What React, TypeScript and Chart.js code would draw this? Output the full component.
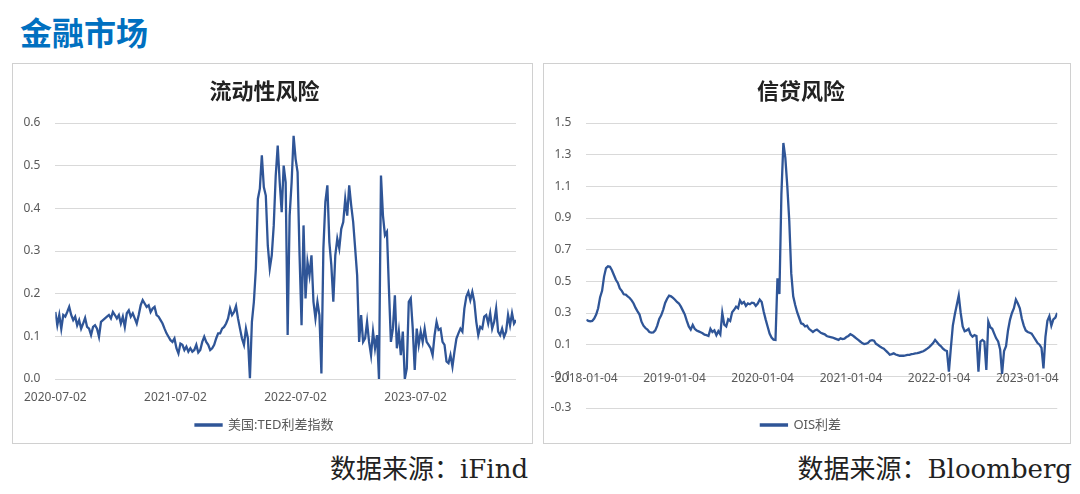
import React, { useEffect, useRef } from "react";
import { Chart, registerables } from "chart.js";

Chart.register(...registerables);

// ---------- Data ----------
const PAGE_TITLE = "金融市场";

const TED_TITLE = "流动性风险";
const TED_LABEL = "美国:TED利差指数";
const TED_SOURCE = "数据来源：iFind";
const TED_RANGE = ["2020-07-02", "2024-05-02"]; // first & last observation
const TED_TICKS = ["2020-07-02", "2021-07-02", "2022-07-02", "2023-07-02"];
const TED_Y = [0, 0.6, 0.1]; // min, max, step
const TED_VALUES = [
  0.157, 0.126, 0.15, 0.118, 0.15, 0.146, 0.157, 0.169, 0.15, 0.138,
  0.146, 0.126, 0.138, 0.118, 0.13, 0.143, 0.122, 0.118, 0.103, 0.122,
  0.126, 0.118, 0.099, 0.134, 0.138, 0.142, 0.146, 0.15, 0.142, 0.157,
  0.15, 0.142, 0.15, 0.13, 0.146, 0.122, 0.154, 0.161, 0.146, 0.154,
  0.142, 0.13, 0.15, 0.173, 0.185, 0.177, 0.169, 0.173, 0.157, 0.165,
  0.169, 0.15, 0.146, 0.138, 0.13, 0.118, 0.107, 0.099, 0.091, 0.087,
  0.095, 0.072, 0.06, 0.083, 0.08, 0.068, 0.076, 0.064, 0.072, 0.064,
  0.068, 0.08, 0.062, 0.068, 0.087, 0.099, 0.087, 0.08, 0.068, 0.072,
  0.08, 0.095, 0.107, 0.107, 0.118, 0.122, 0.13, 0.142, 0.165, 0.15,
  0.157, 0.171, 0.142, 0.118, 0.095, 0.08, 0.118, 0.095, 0.002, 0.134,
  0.181, 0.259, 0.422, 0.446, 0.524, 0.45, 0.43, 0.313, 0.259, 0.29,
  0.36, 0.477, 0.547, 0.461, 0.391, 0.5, 0.461,
  0.103, 0.383, 0.461, 0.57, 0.516, 0.485, 0.29, 0.126, 0.36, 0.189,
  0.274, 0.243, 0.29, 0.181, 0.142, 0.181, 0.15, 0.013, 0.306, 0.415,
  0.454, 0.321, 0.267, 0.181, 0.29, 0.329, 0.306, 0.352, 0.368, 0.422,
  0.383, 0.454, 0.407, 0.368, 0.306, 0.243, 0.087, 0.15, 0.087, 0.095,
  0.134, 0.087, 0.056, 0.111, 0.072, 0.103, 0.0, 0.477, 0.383, 0.337,
  0.345, 0.212, 0.087, 0.118, 0.196, 0.072, 0.111, 0.056, 0.111, 0.0,
  0.025, 0.181, 0.189, 0.118, 0.021, 0.118, 0.08, 0.111, 0.087, 0.118,
  0.087, 0.08, 0.072, 0.056, 0.103, 0.134, 0.115, 0.118, 0.087, 0.08,
  0.041, 0.037, 0.056, 0.029, 0.064, 0.095, 0.107, 0.118, 0.111, 0.165,
  0.193, 0.204, 0.185, 0.204, 0.181, 0.134, 0.103, 0.122, 0.118, 0.146,
  0.15, 0.13, 0.154, 0.118, 0.134, 0.165, 0.111, 0.103, 0.118, 0.099,
  0.111, 0.15, 0.126, 0.154, 0.13, 0.138,
];

const OIS_TITLE = "信贷风险";
const OIS_LABEL = "OIS利差";
const OIS_SOURCE = "数据来源：Bloomberg";
const OIS_RANGE = ["2018-01-04", "2023-05-08"];
const OIS_TICKS = ["2018-01-04", "2019-01-04", "2020-01-04", "2021-01-04", "2022-01-04", "2023-01-04"];
const OIS_Y = [-0.3, 1.5, 0.2];
const OIS_VALUES = [
  0.258, 0.25, 0.247, 0.25, 0.265, 0.29, 0.33, 0.4, 0.44, 0.53,
  0.584, 0.595, 0.592, 0.57, 0.54, 0.51, 0.49, 0.455, 0.44, 0.418,
  0.416, 0.405, 0.395, 0.38, 0.36, 0.332, 0.31, 0.29, 0.245, 0.22,
  0.205, 0.195, 0.18, 0.176, 0.178, 0.19, 0.22, 0.262, 0.285, 0.32,
  0.363, 0.39, 0.41, 0.405, 0.395, 0.384, 0.37, 0.36, 0.34, 0.315,
  0.29, 0.25, 0.215, 0.195, 0.224, 0.2, 0.19, 0.184, 0.178, 0.172,
  0.163, 0.16, 0.155, 0.2, 0.18, 0.19, 0.16, 0.185, 0.165, 0.3,
  0.226, 0.215, 0.26, 0.25, 0.305, 0.32, 0.34, 0.33, 0.38, 0.36,
  0.37, 0.345, 0.36, 0.355, 0.365, 0.363, 0.345, 0.36, 0.385, 0.37,
  0.31, 0.26, 0.215, 0.17, 0.145, 0.132, 0.13, 0.52, 0.42, 1.05,
  1.374, 1.28, 1.1, 0.88, 0.55, 0.405, 0.35, 0.305, 0.27, 0.235,
  0.23, 0.215, 0.22, 0.2, 0.19, 0.18,
  0.19, 0.195, 0.185, 0.175, 0.17, 0.165, 0.155, 0.15, 0.148, 0.145,
  0.14, 0.135, 0.13, 0.14, 0.135, 0.138, 0.148, 0.155, 0.166, 0.16,
  0.15, 0.14, 0.13, 0.12, 0.11, 0.104, 0.106, 0.112, 0.125, 0.128,
  0.125, 0.105, 0.098, 0.088, 0.08, 0.075, 0.062, 0.05, 0.036, 0.04,
  0.045, 0.038, 0.034, 0.03, 0.03, 0.03, 0.032, 0.036, 0.036, 0.04,
  0.042, 0.045, 0.046, 0.05, 0.054, 0.058, 0.066, 0.075, 0.085, 0.097,
  0.11, 0.13, 0.115, 0.1, 0.09, 0.075, 0.065, 0.06, -0.07, 0.08,
  0.22, 0.29, 0.35, 0.41, 0.3, 0.215, 0.185, 0.19, 0.2, 0.165,
  0.15, 0.16, 0.155, -0.07, 0.12, 0.13, 0.12, -0.06, 0.245, 0.21,
  0.2, 0.17, 0.14, 0.12, 0.07, -0.085, 0.06, 0.09, 0.19, 0.257,
  0.3, 0.33, 0.385, 0.36, 0.33, 0.265, 0.22, 0.19, 0.18, 0.175,
  0.17, 0.15, 0.13, 0.11, 0.1, 0.08, -0.05, 0.15, 0.25, 0.28,
  0.22, 0.26, 0.27, 0.3,
];

// ---------- Styling ----------
const LINE_COLOR = "#2F5597";
const GRID_COLOR = "#D9D9D9";
const TICK_COLOR = "#595959";
const SANS = '"Noto Sans", "Noto Sans CJK SC", sans-serif';
const CJK = '"Noto Sans CJK SC", "Noto Sans", sans-serif';

const dayOf = (s: string) =>
  Date.UTC(+s.slice(0, 4), +s.slice(5, 7) - 1, +s.slice(8, 10)) / 86400000;

function toPoints(range: string[], values: number[]) {
  const s = dayOf(range[0]);
  const e = dayOf(range[1]);
  const n = values.length;
  return values.map((v, i) => ({ x: s + ((e - s) * i) / (n - 1), y: v }));
}

type PanelProps = {
  title: string;
  label: string;
  range: string[];
  ticks: string[];
  values: number[];
  yRange: number[];
  width: number;
  height: number;
  yWidth: number;
  padRight: number;
  xOnZero: boolean;
  legendPad: number;
};

function ChartPanel(p: PanelProps) {
  const ref = useRef<HTMLCanvasElement | null>(null);
  useEffect(() => {
    if (!ref.current) return;
    const tickDays = p.ticks.map(dayOf);
    const xScale: any = {
      type: "linear",
      min: dayOf(p.range[0]),
      max: dayOf(p.range[1]),
      position: p.xOnZero ? { y: 0 } : "bottom",
      grid: { display: false, drawTicks: false },
      border: { display: false },
      afterBuildTicks: (scale: any) => {
        scale.ticks = tickDays.map((d) => ({ value: d }));
      },
      afterFit: (scale: any) => {
        if (!p.xOnZero) scale.height = 28;
      },
      ticks: {
        autoSkip: false,
        maxRotation: 0,
        minRotation: 0,
        padding: 11,
        color: TICK_COLOR,
        font: { family: SANS, size: 12 },
        callback: (v: any) => {
          const i = tickDays.indexOf(Number(v));
          return i >= 0 ? p.ticks[i] : "";
        },
      },
    };
    const chart = new Chart(ref.current, {
      type: "line",
      data: {
        datasets: [
          {
            label: p.label,
            data: toPoints(p.range, p.values),
            borderColor: LINE_COLOR,
            backgroundColor: LINE_COLOR,
            borderWidth: 2.3,
            pointRadius: 0,
            tension: 0,
          },
        ],
      },
      options: {
        responsive: false,
        animation: false,
        events: [],
        layout: { padding: { top: 0, left: 0, right: p.padRight, bottom: 1.5 } },
        scales: {
          x: xScale,
          y: {
            type: "linear",
            min: p.yRange[0],
            max: p.yRange[1],
            afterFit: (scale: any) => {
              scale.width = p.yWidth;
            },
            grid: { color: GRID_COLOR, lineWidth: 1, drawTicks: false },
            border: { display: false },
            ticks: {
              stepSize: p.yRange[2],
              padding: 15,
              color: TICK_COLOR,
              font: { family: SANS, size: 12 },
              callback: (v: any) => Number(v).toFixed(1),
            },
          },
        },
        plugins: {
          title: {
            display: true,
            text: p.title,
            color: "#222222",
            font: { family: CJK, size: 22, weight: "bold" },
            padding: { top: 13, bottom: 19.6 },
          },
          legend: {
            display: true,
            position: "bottom",
            labels: {
              boxWidth: 26,
              boxHeight: 1,
              padding: p.legendPad,
              color: TICK_COLOR,
              font: { family: SANS, size: 13 },
            },
          },
          tooltip: { enabled: false },
        },
      },
    } as any);
    return () => chart.destroy();
  }, []);
  return (
    <canvas
      ref={ref}
      width={p.width}
      height={p.height}
      style={{ display: "block", width: p.width, height: p.height }}
    />
  );
}

export default function App() {
  const panelStyle = (left: number, width: number): React.CSSProperties => ({
    position: "absolute",
    left,
    top: 63,
    width,
    height: 379,
    border: "1px solid #D0D0D0",
    background: "#FFFFFF",
  });
  const srcStyle: React.CSSProperties = {
    position: "absolute",
    top: 454,
    fontSize: 26,
    lineHeight: "30px",
    fontFamily: '"DejaVu Serif", "Noto Sans CJK SC", serif',
    color: "#222222",
    whiteSpace: "nowrap",
  };
  return (
    <div
      style={{
        position: "absolute",
        left: 0,
        top: 0,
        width: 1080,
        height: 494,
        background: "#FFFFFF",
        overflow: "hidden",
      }}
    >
      <div
        style={{
          position: "absolute",
          left: 20,
          top: 15,
          fontSize: 32,
          lineHeight: "32px",
          fontWeight: "bold",
          color: "#0070C0",
          fontFamily: CJK,
          whiteSpace: "nowrap",
        }}
      >
        {PAGE_TITLE}
      </div>
      <div style={panelStyle(12, 519)}>
        <ChartPanel
          title={TED_TITLE}
          label={TED_LABEL}
          range={TED_RANGE}
          ticks={TED_TICKS}
          values={TED_VALUES}
          yRange={TED_Y}
          width={519}
          height={379}
          yWidth={39}
          padRight={16}
          xOnZero={false}
          legendPad={11.5}
        />
      </div>
      <div style={panelStyle(543, 526)}>
        <ChartPanel
          title={OIS_TITLE}
          label={OIS_LABEL}
          range={OIS_RANGE}
          ticks={OIS_TICKS}
          values={OIS_VALUES}
          yRange={OIS_Y}
          width={526}
          height={379}
          yWidth={36}
          padRight={12}
          xOnZero={true}
          legendPad={10.5}
        />
      </div>
      <div style={{ ...srcStyle, left: 330 }}>{TED_SOURCE}</div>
      <div style={{ ...srcStyle, right: 8 }}>{OIS_SOURCE}</div>
    </div>
  );
}
